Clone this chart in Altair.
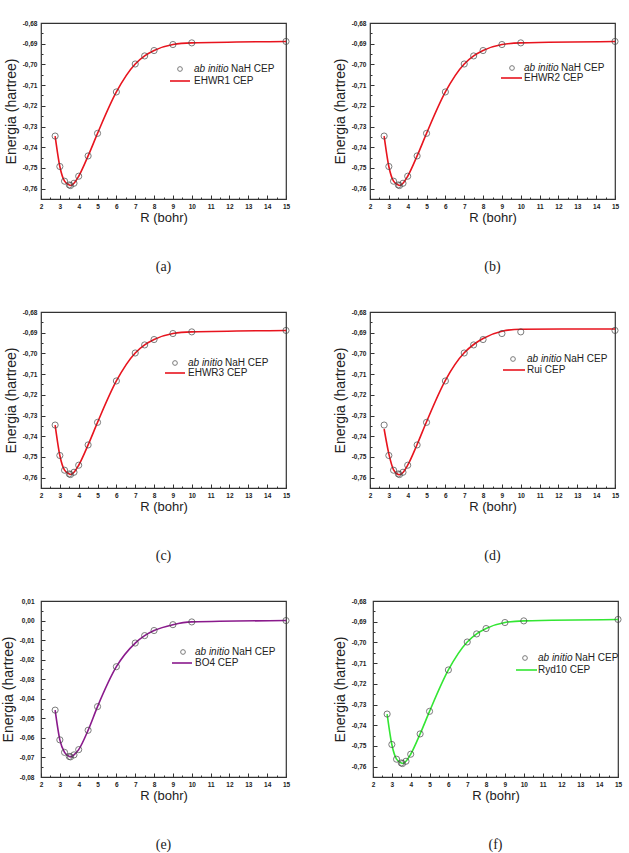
import altair as alt
import pandas as pd

# Internuclear distances (bohr) of the ab initio NaH CEP points
R = [2.75, 3.0, 3.25, 3.5, 3.566, 3.75, 4.0, 4.5, 5.0, 6.0, 7.0, 7.5, 8.0, 9.0, 10.0, 15.0]

# ab initio energies (hartree)
E_AB = [-0.7346, -0.7493, -0.7564, -0.7582, -0.7585, -0.7574, -0.7540, -0.7442,
        -0.7333, -0.7133, -0.6998, -0.6959, -0.6933, -0.6904, -0.6896, -0.6889]

# fitted curves (hartree)
E_EHWR1 = [-0.7346, -0.7493, -0.7564, -0.7582, -0.7585, -0.7574, -0.7540, -0.7442,
           -0.7333, -0.7133, -0.6998, -0.6959, -0.6933, -0.6904, -0.6896, -0.6889]
E_EHWR2 = [-0.7346, -0.7493, -0.7564, -0.7582, -0.7585, -0.7574, -0.7540, -0.7442,
           -0.7333, -0.7133, -0.6998, -0.6959, -0.6933, -0.6904, -0.6896, -0.6889]
E_EHWR3 = [-0.7346, -0.7493, -0.7564, -0.7582, -0.7585, -0.7574, -0.7540, -0.7442,
           -0.7333, -0.7133, -0.6998, -0.6959, -0.6933, -0.6904, -0.6896, -0.6889]
E_RUI = [-0.7365, -0.7485, -0.7562, -0.7585, -0.7586, -0.7575, -0.7540, -0.7440,
         -0.7330, -0.7130, -0.6997, -0.6957, -0.6928, -0.6893, -0.6883, -0.6882]
E_RYD10 = [-0.7346, -0.7493, -0.7564, -0.7582, -0.7585, -0.7574, -0.7540, -0.7442,
           -0.7333, -0.7133, -0.6998, -0.6959, -0.6933, -0.6904, -0.6896, -0.6889]

# energies relative to the dissociation limit (panel e)
E_AB_REL = [-0.0458, -0.0610, -0.0674, -0.0695, -0.0697, -0.0687, -0.0660, -0.0561,
            -0.0440, -0.0236, -0.0115, -0.0077, -0.0051, -0.0021, -0.0007, 0.0]
E_BO4 = [-0.0458, -0.0610, -0.0674, -0.0695, -0.0697, -0.0687, -0.0660, -0.0561,
         -0.0440, -0.0236, -0.0115, -0.0077, -0.0051, -0.0021, -0.0007, 0.0]

X_MAJOR = list(range(2, 16))
X_MINOR = [x + 0.5 for x in range(2, 15)]

W, H = 245, 176
SANS = "Liberation Sans"
LABEL_EXPR = "replace(replace(format(datum.value, '.2f'), '.', ','), '\u2212', '-')"


def panel(caption, fit_name, color, e_pts, e_fit, ydom, ymajor, yminor, leg, left_pad=4):
    pts = pd.DataFrame({"R": R, "E": e_pts})
    fit = pd.DataFrame({"R": R, "E": e_fit})
    xs = alt.Scale(domain=[2, 15], nice=False, zero=False)
    ys = alt.Scale(domain=ydom, nice=False, zero=False)

    x_main = alt.X("R:Q", scale=xs, axis=alt.Axis(
        title="R (bohr)", values=X_MAJOR, ticks=False, grid=False, domain=False,
        labelFont=SANS, labelFontSize=6.5, labelFontWeight="bold", labelColor="#222",
        labelPadding=4, titleFont=SANS, titleFontSize=13, titleFontWeight="normal",
        titleColor="#222", titlePadding=2, labelFlush=False))
    y_main = alt.Y("E:Q", scale=ys, axis=alt.Axis(
        title="Energia (hartree)", values=ymajor, ticks=False, grid=False, domain=False,
        labelExpr=LABEL_EXPR, labelFont=SANS, labelFontSize=6.5, labelFontWeight="bold",
        labelColor="#222", labelPadding=left_pad, titleFont=SANS, titleFontSize=14,
        titleFontWeight="normal", titleColor="#222", titlePadding=4, labelFlush=False))

    curve = alt.Chart(fit).mark_line(color=color, strokeWidth=1.6, interpolate="monotone").encode(
        x=x_main, y=y_main)
    points = alt.Chart(pts).mark_point(shape="circle", size=38, filled=False,
                                       stroke="#444", strokeWidth=1).encode(
        x=alt.X("R:Q", scale=xs, axis=None), y=alt.Y("E:Q", scale=ys, axis=None))

    # inward tick marks (Origin style)
    def xticks(vals, size):
        return alt.Chart(pts).mark_point(opacity=0).encode(
            x=alt.X("R:Q", scale=xs, axis=alt.Axis(
                orient="top", offset=-H, values=vals, labels=False, domain=False,
                grid=False, title=None, tickSize=size, tickColor="#333")),
            y=alt.Y("E:Q", scale=ys, axis=None))

    def yticks(vals, size):
        return alt.Chart(pts).mark_point(opacity=0).encode(
            x=alt.X("R:Q", scale=xs, axis=None),
            y=alt.Y("E:Q", scale=ys, axis=alt.Axis(
                orient="right", offset=-W, values=vals, labels=False, domain=False,
                grid=False, title=None, tickSize=size, tickColor="#333")))

    sx, sy, lx1, lx2, ly, tx = leg
    leg_sym = alt.Chart(pts.head(1)).mark_point(
        shape="circle", size=22, filled=False, stroke="#444", strokeWidth=1).encode(
        x=alt.value(sx), y=alt.value(sy))
    leg_line = alt.Chart(pts.head(1)).mark_rule(color=color, strokeWidth=1.6).encode(
        x=alt.value(lx1), x2=alt.value(lx2), y=alt.value(ly))
    leg_t1 = alt.Chart(pts.head(1)).mark_text(
        text="ab initio", font=SANS, fontSize=10, fontStyle="italic", align="left",
        baseline="middle", color="#222").encode(x=alt.value(tx), y=alt.value(sy))
    leg_t2 = alt.Chart(pts.head(1)).mark_text(
        text="NaH CEP", font=SANS, fontSize=10, align="left", baseline="middle",
        color="#222").encode(x=alt.value(tx + 37), y=alt.value(sy))
    leg_t3 = alt.Chart(pts.head(1)).mark_text(
        text=f"{fit_name} CEP", font=SANS, fontSize=10, align="left", baseline="middle",
        color="#222").encode(x=alt.value(tx), y=alt.value(ly))

    return alt.layer(
        curve, points,
        xticks(X_MAJOR, 4), xticks(X_MINOR, 2), yticks(ymajor, 4), yticks(yminor, 2),
        leg_sym, leg_line, leg_t1, leg_t2, leg_t3,
    ).resolve_axis(x="independent", y="independent").properties(
        width=W, height=H,
        title=alt.TitleParams(caption, orient="bottom", font="Liberation Serif",
                              fontSize=14, fontWeight="normal", color="#222",
                              offset=35, anchor="middle"))


Y_NEG = [-0.76, -0.75, -0.74, -0.73, -0.72, -0.71, -0.70, -0.69, -0.68]
Y_NEG_MINOR = [-0.765, -0.755, -0.745, -0.735, -0.725, -0.715, -0.705, -0.695, -0.685]
Y_REL = [-0.08, -0.07, -0.06, -0.05, -0.04, -0.03, -0.02, -0.01, 0.0, 0.01]
Y_REL_MINOR = [-0.075, -0.065, -0.055, -0.045, -0.035, -0.025, -0.015, -0.005, 0.005]
DOM_NEG = [-0.765, -0.68]
DOM_REL = [-0.08, 0.01]

RED = "#e8141e"

pa = panel("(a)", "EHWR1", RED, E_AB, E_EHWR1, DOM_NEG, Y_NEG, Y_NEG_MINOR,
           (139, 46, 129, 149, 58, 153))
pb = panel("(b)", "EHWR2", RED, E_AB, E_EHWR2, DOM_NEG, Y_NEG, Y_NEG_MINOR,
           (142, 45, 131, 152, 55, 154))
pc = panel("(c)", "EHWR3", RED, E_AB, E_EHWR3, DOM_NEG, Y_NEG, Y_NEG_MINOR,
           (134, 51, 124, 144, 61, 147))
pd_ = panel("(d)", "Rui", RED, E_AB, E_RUI, DOM_NEG, Y_NEG, Y_NEG_MINOR,
            (143, 47, 133, 155, 58, 157))
pe = panel("(e)", "BO4", "#8a1a8c", E_AB_REL, E_BO4, DOM_REL, Y_REL, Y_REL_MINOR,
           (142, 51, 131, 151, 62, 154), left_pad=7)
pf = panel("(f)", "Ryd10", "#33e633", E_AB, E_RYD10, DOM_NEG, Y_NEG, Y_NEG_MINOR,
           (152, 57, 143, 164, 69, 165), left_pad=7)

chart = alt.vconcat(
    alt.hconcat(pa, pb, spacing=40),
    alt.hconcat(pc, pd_, spacing=40),
    alt.hconcat(pe, pf, spacing=40),
    spacing=33,
).properties(
    padding={"left": 0, "top": 19, "right": 5, "bottom": 3},
    background="white",
).configure_view(stroke="#333", strokeWidth=1.2)

chart.save("out.html", embed_options={"renderer": "svg", "actions": False})
